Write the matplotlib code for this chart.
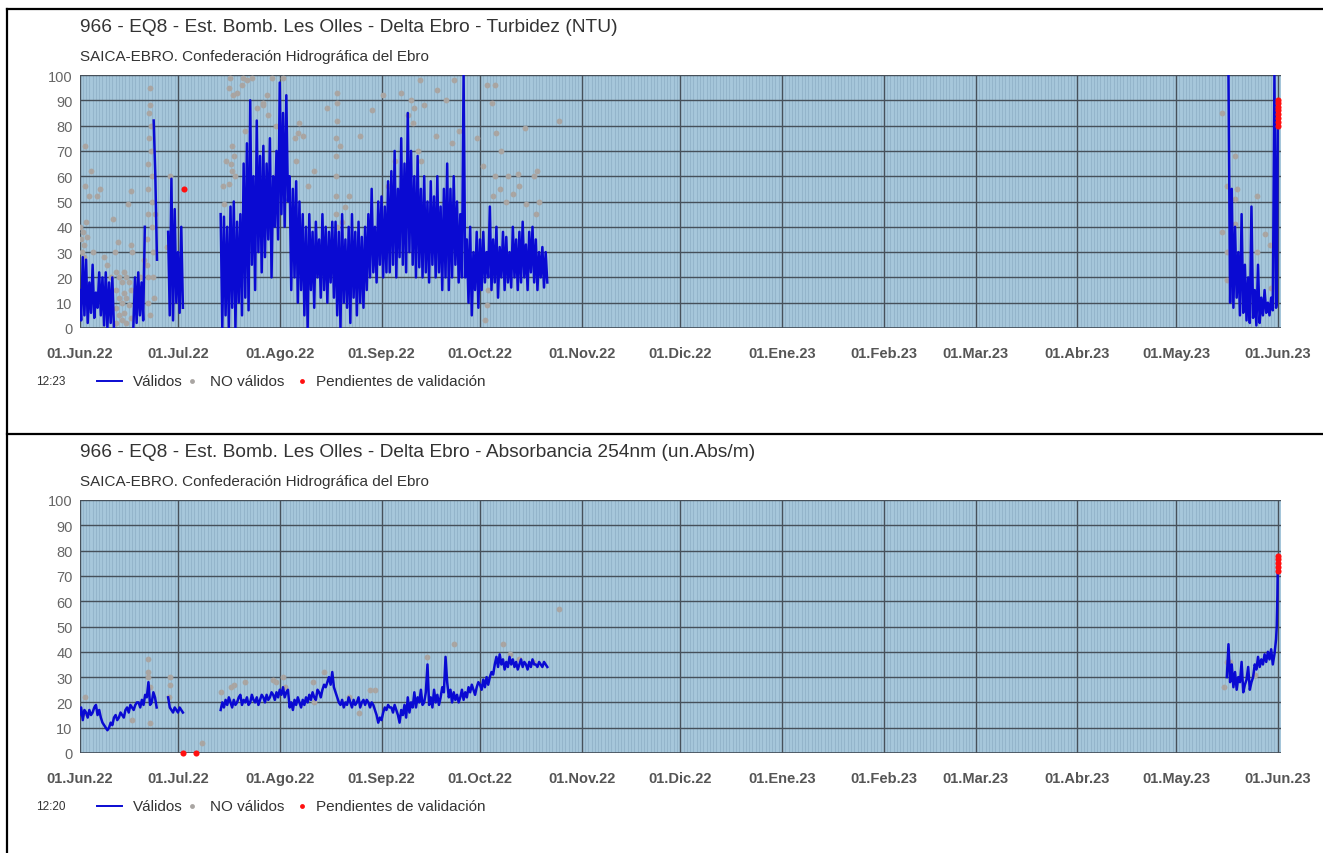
import numpy as np
import matplotlib
matplotlib.use("Agg")
import matplotlib.pyplot as plt
from matplotlib.lines import Line2D
from matplotlib.ticker import MultipleLocator

plt.rcParams['font.family'] = ['Liberation Sans', 'DejaVu Sans']

# ---------------- data (days counted from 01.Jun.22) ----------------
month_starts = ['2022-06-01', '2022-07-01', '2022-08-01', '2022-09-01', '2022-10-01',
                '2022-11-01', '2022-12-01', '2023-01-01', '2023-02-01', '2023-03-01',
                '2023-04-01', '2023-05-01', '2023-06-01']
month_labels = ['01.Jun.22', '01.Jul.22', '01.Ago.22', '01.Sep.22', '01.Oct.22',
                '01.Nov.22', '01.Dic.22', '01.Ene.23', '01.Feb.23', '01.Mar.23',
                '01.Abr.23', '01.May.23', '01.Jun.23']

# --- Turbidez, valid readings (12 h steps) ---
turb_s1 = [15, 3, 28, 5, 27, 2, 18, 6, 25, 4, 14, 8, 22, 5, 20, 1, 22, 0, 18, 2, 20, 0]
turb_s2 = [0, 20, 2, 22, 5, 18, 3, 40]
turb_s3 = [82, 60, 27]
turb_s4 = [38, 5, 59, 3, 47, 10, 30, 6, 40, 8]
turb_s5_high = [45, 44, 40, 48, 50, 42, 45,
                65, 73, 90, 60, 82, 68,
                72, 65, 75, 60, 70,
                97, 85, 92,
                60, 55, 58, 50, 45,
                40, 45, 38, 42, 35, 45, 40, 38, 42,
                42, 38, 45, 35, 40, 45, 38, 42, 36, 40,
                45, 55, 40, 50, 52, 48,
                58, 62, 70, 55, 75, 65, 85, 70, 60, 68,
                55, 60, 50, 58, 52, 60, 48, 55,
                65, 55, 60, 50, 45,
                100,
                35, 40, 30, 38,
                35, 38, 30, 48, 35, 40, 32, 38, 36, 30, 40, 35, 38, 42, 33, 38, 40, 35, 30, 32, 30]
turb_s5_low = [0, 5, 0, 8, 0, 10, 5,
               12, 7, 25, 15, 30, 22,
               28, 35, 20, 40, 35,
               45, 40, 50,
               15, 20, 10, 15, 5,
               0, 15, 8, 20, 12, 15, 10, 18, 12,
               5, 0, 10, 8, 2, 12, 5, 10, 8, 15,
               20, 22, 18, 25, 20, 22,
               22, 25, 20, 28, 25, 22, 30, 25, 20, 24,
               20, 22, 18, 25, 20, 22, 15, 20,
               15, 20, 25, 18, 20,
               20,
               10, 5, 15, 8,
               15, 18, 20, 15, 18, 12, 20, 15, 18, 16, 20, 15, 18, 20, 15, 22, 18, 15, 20, 16, 18]
turb_s6_high = [100, 55, 40, 30, 45, 25, 20, 48, 15, 25, 12, 15, 10, 12, 100]
turb_s6_low = [10, 8, 12, 5, 6, 3, 2, 4, 1, 2, 5, 6, 5, 7, 8]
turb_tail_days = [364.7, 364.85, 365.0]
turb_tail_vals = [10, 45, 80]

turb_grey_days = [0.3, 0.5, 0.8, 1.0, 1.3, 1.5, 1.7, 1.7, 2.0, 2.2, 2.9, 3.4, 4, 5.2, 6.3, 7.5, 8.5, 9.5, 10.3, 10.8,
                  11.2, 11.2, 11.2, 11.2, 11.8, 12, 12, 12, 12.8, 12.8, 12.8, 13.5, 13.5, 13.5, 14.2, 14.2, 14.2,
                  14.8, 15, 15, 15.8, 15.8, 16, 15.6, 15.6,
                  20.5, 20.5, 20.8, 21, 21, 21.2, 21.3, 21.5, 21.5, 21.8, 21.8, 22, 22, 22.2, 22.3, 22.3, 21, 20.8,
                  21.5, 19.5, 18.5, 23, 22.6, 27.6, 26.8,
                  43.7, 44.7, 45.6, 45.8, 46, 46.4, 46.5, 47, 45.5, 44, 47.5, 46.8, 48, 49.5, 49.8, 50.4, 51, 52.5,
                  54, 56, 56, 57, 57.4, 60, 58.5, 62,
                  65.5, 66, 67, 66.5, 68, 69.5, 71.5, 75.4, 78.4, 78.4, 78.4, 78, 78, 78, 78, 78, 78.5, 79.3, 80,
                  81, 82,
                  85.4, 89, 92.4, 98, 101, 102, 103.7, 105, 109, 111.5, 114, 94, 96, 95, 100, 101.5, 108.5, 113.5,
                  115.5, 103, 104, 60, 62,
                  121, 123, 124, 126.5, 125.6, 127, 128.5, 126.5, 130.5, 133.6, 135.6, 139.5, 138.5, 124, 123.5,
                  124.5, 126, 128, 130, 132, 136, 139, 146, 140, 134,
                  348, 352, 349.4, 352.5, 358.6, 352, 352, 348, 361, 362.5, 349.4, 358.6, 349.4, 352, 363]
turb_grey_vals = [40, 35, 30, 38, 33, 28, 72, 56, 42, 36, 52, 62, 30, 52, 55, 28, 25, 20, 43, 30,
                  22, 15, 8, 2, 34, 20, 12, 5, 18, 10, 3, 22, 14, 6, 20, 12, 2,
                  49, 18, 9, 54, 33, 30, 15, 4,
                  25, 35, 45, 55, 65, 75, 85, 95, 88, 80, 70, 60, 50, 40, 30, 20, 20, 10,
                  5, 27, 20, 45, 12, 60, 32,
                  56, 66, 95, 99, 65, 72, 62, 68, 57, 49, 60, 92, 93, 96, 99, 78, 98, 99,
                  87, 89, 88, 92, 84, 80, 99, 99,
                  75, 66, 81, 77, 76, 56, 62, 87, 93, 89, 82, 75, 68, 60, 52, 45, 40, 72, 42,
                  48, 52,
                  76, 86, 92, 93, 90, 87, 98, 88, 94, 90, 98, 56, 66, 50, 84, 81, 76, 73,
                  78, 70, 66, 60, 70,
                  75, 64, 96, 96, 89, 77, 70, 60, 60, 61, 79, 62, 60, 9, 3,
                  15, 52, 55, 50, 53, 49, 45, 82, 50, 56,
                  85, 68, 56, 55, 52, 51, 41, 38, 37, 33, 30, 30, 19, 28, 16]
turb_red_days = [31.7, 365.0, 365.0, 365.0, 365.0, 365.0, 365.0, 365.0, 365.0]
turb_red_vals = [55, 80, 81.5, 83, 84.5, 86, 87.5, 89, 90]

# --- Absorbancia 254nm ---
abs_s1 = [15, 18, 13, 17, 16, 14, 17, 15, 16, 18, 19, 15, 17, 14, 12, 11, 10, 9, 10, 12, 11, 14, 15, 13,
          14, 16, 15, 14, 17, 18, 16, 19, 18, 17, 19, 20, 20, 18, 21, 19, 23, 22, 28, 19, 20, 24, 22, 18]
abs_s2 = [22, 18, 17, 16, 18, 17, 16, 18, 17, 16]
abs_s3 = [17, 20, 18, 21, 19, 22, 20, 18, 21, 19, 20, 22, 23, 19, 21, 20,
          22, 19, 20, 23, 21, 20, 22, 19, 21, 23, 22, 20, 23, 21, 22, 24,
          23, 21, 24, 22, 25, 23, 26, 22, 24, 25,
          18, 20, 17, 21, 19, 22, 20, 18, 21, 19,
          22, 20, 23, 21, 24, 22, 21, 25, 24, 22,
          25, 27, 26, 28, 30, 27, 32, 26, 24, 22,
          20, 19, 21, 18, 20, 19, 22, 20, 18, 21, 19, 20, 22, 18, 20, 21,
          19, 21, 20, 18, 20, 19, 17, 15, 12, 14, 13, 16, 18, 17, 19, 18,
          18, 16, 19, 17, 15, 12, 17, 15, 19, 14, 22, 16, 20, 18, 24, 18, 22, 20, 25, 19,
          20, 24, 35, 19, 22, 18, 25, 20, 23, 19, 22, 26, 24, 38, 28, 22, 25, 20, 24, 21,
          23, 20, 22, 25, 21, 24, 22, 26, 24, 27, 25, 23, 26, 28, 27, 25, 29, 26, 30, 27,
          30, 32, 31, 35, 38, 34, 39, 35, 37, 33, 36, 34, 38, 35, 37, 34, 36, 33, 35, 37,
          34, 36, 35, 33, 36, 34, 37, 35, 35, 34, 36, 35, 34, 36, 35, 34]
abs_s4 = [30, 43, 28, 35, 26, 32, 25, 30, 28, 36, 24, 27, 29, 34, 25, 28, 30, 35, 33, 38, 34, 37, 35, 39,
          36, 40, 37, 41, 35, 39, 45]
abs_tail_days = [364.7, 364.9, 365.0]
abs_tail_vals = [50, 62, 72]

abs_grey_days = [1.7, 1.3, 16, 21, 21, 20.8, 21.6, 21.4, 27.6, 27.6, 27.3, 37.4,
                 43, 46, 47, 50.4, 59, 60, 62, 62.5, 71, 71.5, 74.5, 82, 88.5, 90,
                 85, 106, 114, 129, 131, 134, 138, 146,
                 349.4, 350.5, 348.5, 358]
abs_grey_vals = [22, 16, 13, 37, 32, 30, 26, 12, 30, 27, 22, 4,
                 24, 26, 27, 28, 29, 28, 30, 26, 28, 20, 32, 22, 25, 25,
                 16, 38, 43, 43, 39, 37, 36, 57,
                 36, 36, 26, 31]
abs_red_days = [31.6, 35.6, 365.0, 365.0, 365.0, 365.0, 365.0]
abs_red_vals = [0, 0, 72, 73.5, 75, 76.5, 78]

# ---------------- helpers ----------------
BLUE = '#0a0ad2'
GREY = '#a9a5a2'
RED = '#ff1010'
TXT = '#333333'


def seg(start, vals):
    days = start + 0.5 * np.arange(len(vals))
    return days, np.asarray(vals, float)


def zig(start, highs, lows):
    vals = np.column_stack([highs, lows]).ravel()
    return seg(start, vals)


def join(parts):
    xs, ys = [], []
    for d, v in parts:
        xs += list(d) + [np.nan]
        ys += list(v) + [np.nan]
    return np.array(xs), np.array(ys)


base = np.datetime64('2022-06-01')
tick_days = [(np.datetime64(m) - base).astype(int) for m in month_starts]

t6 = zig(350, turb_s6_high, turb_s6_low)
turb_x, turb_y = join([seg(0, turb_s1), seg(16.4, turb_s2), seg(22.6, turb_s3), seg(27.0, turb_s4),
                       zig(43, turb_s5_high, turb_s5_low),
                       (np.r_[t6[0], turb_tail_days], np.r_[t6[1], turb_tail_vals])])
a4 = seg(349.5, abs_s4)
abs_x, abs_y = join([seg(0, abs_s1), seg(27.0, abs_s2), seg(43, abs_s3),
                     (np.r_[a4[0], abs_tail_days], np.r_[a4[1], abs_tail_vals])])

W, H = 1323, 854
fig = plt.figure(figsize=(W / 100, H / 100), dpi=100)


def fx(px):
    return px / W


def fy(py):
    return 1 - py / H


def panel(top, title, stamp, lx, ly, gx, gy, rx, ry):
    ax = fig.add_axes([fx(79.5), fy(top + 253), fx(1281) - fx(79.5), 253 / H])
    ax.set_facecolor('#a7c7db')
    ax.set_xlim(0, 366)
    ax.set_ylim(0, 100)
    ax.xaxis.set_minor_locator(MultipleLocator(1))
    ax.grid(which='minor', axis='x', color='#94b5cb', lw=0.8)
    ax.grid(which='major', color='#46505a', lw=1.0)
    ax.set_axisbelow(True)
    ax.set_xticks(tick_days)
    ax.set_xticklabels(month_labels, fontsize=10.5, fontweight='bold', color='#555555')
    ax.set_yticks(range(0, 101, 10))
    ax.tick_params(axis='x', which='both', length=0, pad=13)
    ax.tick_params(axis='y', length=0, pad=5, labelsize=10.5, labelcolor='#666666')
    for s in ax.spines.values():
        s.set_visible(False)
    ax.axvline(0, color='#46505a', lw=1.2)
    ax.axhline(0, color='#46505a', lw=1.2)
    ax.axhline(100, color='#46505a', lw=1.2)

    ax.plot(gx, gy, 'o', color=GREY, ms=4.2, mec='none', zorder=2)
    ax.plot(lx, ly, '-', color=BLUE, lw=1.8, zorder=3)
    ax.plot(rx, ry, 'o', color=RED, ms=4.4, mec='none', zorder=4, clip_on=False)

    fig.text(fx(80), fy(top - 48), title, fontsize=13.8, color=TXT, va='center')
    fig.text(fx(80), fy(top - 19), 'SAICA-EBRO. Confederación Hidrográfica del Ebro',
             fontsize=11, color=TXT, va='center')

    ly_leg = fy(top + 306)
    fig.text(fx(36), ly_leg, stamp, fontsize=8.5, color=TXT, va='center')
    fig.add_artist(Line2D([fx(97), fx(122)], [ly_leg, ly_leg], color=BLUE, lw=1.4))
    fig.text(fx(133), ly_leg, 'Válidos', fontsize=11, color=TXT, va='center')
    fig.add_artist(Line2D([fx(192)], [ly_leg], marker='o', color=GREY, ms=3.5, mec='none'))
    fig.text(fx(210), ly_leg, 'NO válidos', fontsize=11, color=TXT, va='center')
    fig.add_artist(Line2D([fx(302)], [ly_leg], marker='o', color=RED, ms=3.5, mec='none'))
    fig.text(fx(316), ly_leg, 'Pendientes de validación', fontsize=11, color=TXT, va='center')
    return ax


panel(76, '966 - EQ8 - Est. Bomb. Les Olles - Delta Ebro - Turbidez (NTU)', '12:23',
      turb_x, turb_y, turb_grey_days, turb_grey_vals, turb_red_days, turb_red_vals)
panel(501, '966 - EQ8 - Est. Bomb. Les Olles - Delta Ebro - Absorbancia 254nm (un.Abs/m)', '12:20',
      abs_x, abs_y, abs_grey_days, abs_grey_vals, abs_red_days, abs_red_vals)

# panel frames
fig.add_artist(Line2D([fx(7), fx(7)], [0, fy(10)], color='black', lw=1.6))
fig.add_artist(Line2D([fx(7), 1], [fy(10), fy(10)], color='black', lw=1.6))
fig.add_artist(Line2D([fx(7), 1], [fy(435), fy(435)], color='black', lw=1.6))

fig.savefig('out.png', dpi=100, facecolor='white')
